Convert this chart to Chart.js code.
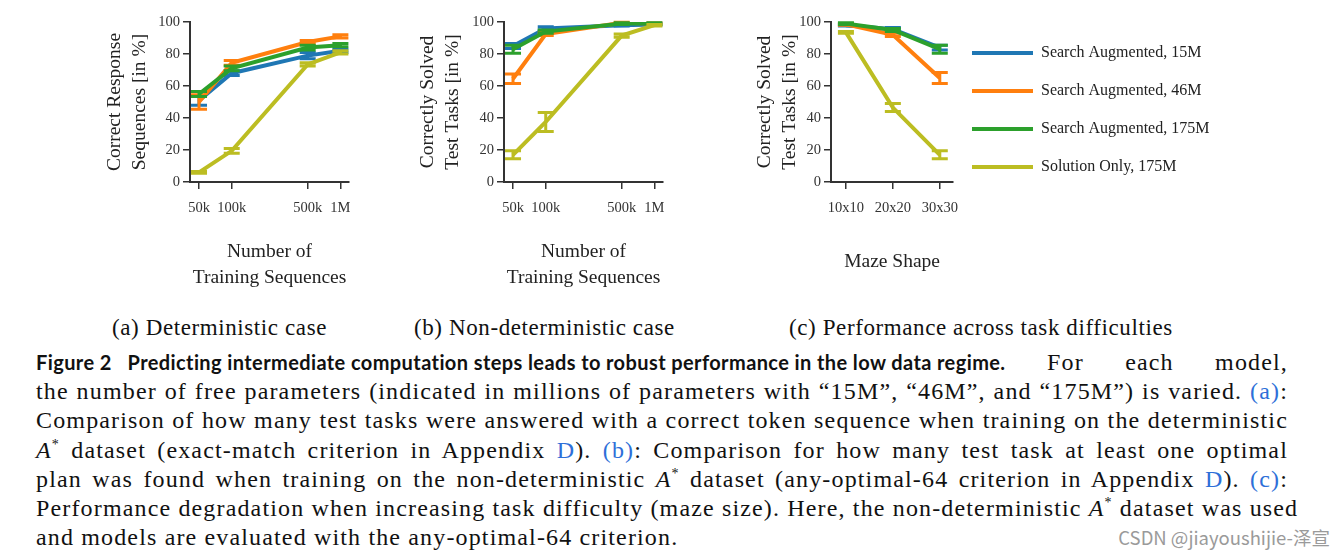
<!DOCTYPE html>
<html>
<head>
<meta charset="utf-8">
<script src="https://cdn.jsdelivr.net/npm/chart.js@4.4.0/dist/chart.umd.min.js"></script>
<style>
  html, body { margin: 0; overflow: hidden; }
  body { width: 1344px; height: 556px; background: #fff; position: relative; }
  .plot { position: absolute; top: 0; }
  .cap { position: absolute; top: 316px; font-family: 'Liberation Serif', serif; font-size: 23px; line-height: 24px; letter-spacing: 0.6px; color: #111; white-space: nowrap; }
  #text { position: absolute; left: 36px; top: 348px; width: 1252px; font-family: 'Liberation Serif', serif; font-size: 24px; line-height: 29.2px; letter-spacing: 1.15px; color: #111; }
  #text div { text-align: justify; text-align-last: justify; white-space: nowrap; }
  #text div.first { display: flex; justify-content: space-between; }
  #text div.first span { width: 241px; text-align: justify; text-align-last: justify; }
  #text div.last { text-align-last: left; }
  #text b { font-family: 'Lato', sans-serif; font-weight: bold; font-size: 20px; letter-spacing: 0.4px; }
  #text a { color: #2e6fd8; text-decoration: none; }
  #text sup { font-size: 14px; line-height: 0; }
  #mark { position: absolute; right: 14px; top: 524px; font-family: 'Noto Sans CJK SC', sans-serif; font-size: 18.5px; color: #9a9a9a; }
</style>
</head>
<body>
<div class="plot" style="left:102px;width:260px;height:292px"><canvas id="detChart"></canvas></div>
<div class="plot" style="left:415px;width:261px;height:292px"><canvas id="nondetChart"></canvas></div>
<div class="plot" style="left:752px;width:217px;height:276px"><canvas id="mazeChart"></canvas></div>
<div class="plot" style="left:950px;width:620px;height:200px"><canvas id="legendChart"></canvas></div>

<div class="cap" style="left:112px">(a) Deterministic case</div>
<div class="cap" style="left:414px">(b) Non-deterministic case</div>
<div class="cap" style="left:789px">(c) Performance across task difficulties</div>

<div id="text">
  <div class="first"><b>Figure 2&nbsp;&nbsp; Predicting intermediate computation steps leads to robust performance in the low data regime.</b><span>For each model,</span></div>
  <div>the number of free parameters (indicated in millions of parameters with “15M”, “46M”, and “175M”) is varied. <a>(a)</a>:</div>
  <div>Comparison of how many test tasks were answered with a correct token sequence when training on the deterministic</div>
  <div><i>A</i><sup>*</sup> dataset (exact-match criterion in Appendix <a>D</a>). <a>(b)</a>: Comparison for how many test task at least one optimal</div>
  <div>plan was found when training on the non-deterministic <i>A</i><sup>*</sup> dataset (any-optimal-64 criterion in Appendix <a>D</a>). <a>(c)</a>:</div>
  <div>Performance degradation when increasing task difficulty (maze size). Here, the non-deterministic <i>A</i><sup>*</sup> dataset was used</div>
  <div class="last">and models are evaluated with the any-optimal-64 criterion.</div>
</div>
<div id="mark">CSDN @jiayoushijie-泽宣</div>

<script>
// x positions / tick labels
const sizeTicks = [50000, 100000, 500000, 1000000];
const sizeLabels = ['50k', '100k', '500k', '1M'];
const mazeTicks = [0, 1, 2];
const mazeLabels = ['10x10', '20x20', '30x30'];

const seriesNames = ['Search Augmented, 15M', 'Search Augmented, 46M', 'Search Augmented, 175M', 'Solution Only, 175M'];
const seriesColors = ['#1f77b4', '#ff7f0e', '#2ca02c', '#bcbd22'];

// (a) deterministic, correct response sequences [%]
const detMean = [
  [51, 68, 79, 82],
  [50, 74.5, 87.5, 91],
  [55, 71, 84, 85.5],
  [6, 19.5, 73.5, 81]
];
const detErr = [
  [3, 1.5, 2, 1],
  [4.5, 1.5, 1, 1],
  [1.5, 1.5, 1.5, 1],
  [0.5, 1.5, 1, 1]
];

// (b) non-deterministic, correctly solved test tasks [%]
const nondetMean = [
  [85, 96, 98, 98.5],
  [64.5, 92.5, 99.5, 99],
  [83, 94, 99, 99],
  [17, 37.5, 91.5, 98]
];
const nondetErr = [
  [1.5, 1, 0.5, 0.5],
  [3, 1, 0.3, 0.3],
  [2.5, 1, 0.5, 0.5],
  [2.5, 6, 1, 0.5]
];

// (c) maze shape, correctly solved test tasks [%]
const mazeMean = [
  [98, 95.5, 84],
  [98.5, 92, 65],
  [99, 95, 83],
  [93.5, 46.5, 17]
];
const mazeErr = [
  [0.5, 1, 1.5],
  [0.5, 1, 3.5],
  [0.5, 1, 2.5],
  [0.5, 2.5, 2.5]
];

const tickFont = { family: 'Liberation Serif', size: 14.5 };
const titleFont = { family: 'Liberation Serif', size: 19.5, lineHeight: '26px' };
const ink = '#333';

// draws the error bars of each series right after its line
const errorBars = {
  id: 'errorBars',
  afterDatasetDraw(chart, args) {
    const ds = chart.data.datasets[args.index];
    if (!ds.errors) return;
    const ctx = chart.ctx, xs = chart.scales.x, ys = chart.scales.y;
    ctx.save();
    ctx.strokeStyle = ds.borderColor;
    ctx.lineWidth = 3;
    ds.data.forEach((p, i) => {
      const e = ds.errors[i];
      const px = xs.getPixelForValue(p.x);
      const lo = ys.getPixelForValue(p.y - e);
      const hi = ys.getPixelForValue(p.y + e);
      ctx.beginPath();
      ctx.moveTo(px, lo); ctx.lineTo(px, hi);
      ctx.moveTo(px - 8, lo); ctx.lineTo(px + 8, lo);
      ctx.moveTo(px - 8, hi); ctx.lineTo(px + 8, hi);
      ctx.stroke();
    });
    ctx.restore();
  }
};

function makeDatasets(means, errs, xs) {
  return means.map((m, s) => ({
    label: seriesNames[s],
    data: m.map((v, i) => ({ x: xs[i], y: v })),
    errors: errs[s],
    borderColor: seriesColors[s],
    backgroundColor: seriesColors[s],
    borderWidth: 4,
    pointRadius: 0,
    order: 4 - s
  }));
}

function makeChart(id, cfg) {
  const xAxis = Object.assign({
    afterBuildTicks: s => { s.ticks = cfg.ticks.map(v => ({ value: v })); },
    afterFit: s => { s.height = cfg.xHeight; },
    ticks: { autoSkip: false, maxRotation: 0, padding: 10, color: ink, font: tickFont,
             callback: (v, i) => cfg.labels[i] },
    grid: { drawOnChartArea: false, tickLength: 7, color: ink, lineWidth: 1.5 },
    border: { color: ink, width: 2 },
    title: { display: true, text: cfg.xTitle, color: '#222', font: titleFont, padding: 0 }
  }, cfg.xScale);

  return new Chart(document.getElementById(id), {
    type: 'line',
    data: { datasets: makeDatasets(cfg.means, cfg.errs, cfg.ticks) },
    plugins: [errorBars],
    options: {
      responsive: true,
      maintainAspectRatio: false,
      animation: false,
      events: [],
      layout: { padding: { top: 22, right: cfg.padRight, bottom: 1, left: 0 } },
      plugins: { legend: { display: false }, tooltip: { enabled: false } },
      scales: {
        x: xAxis,
        y: {
          min: 0, max: 100,
          afterFit: s => { s.width = cfg.yWidth; },
          ticks: { stepSize: 20, padding: 3, color: ink, font: tickFont },
          grid: { drawOnChartArea: false, tickLength: 7, color: ink, lineWidth: 1.5 },
          border: { color: ink, width: 2 },
          title: { display: true, text: cfg.yTitle, color: '#222', font: Object.assign({}, titleFont, { lineHeight: '25.5px' }), padding: 0 }
        }
      }
    }
  });
}

makeChart('detChart', {
  means: detMean, errs: detErr, ticks: sizeTicks, labels: sizeLabels,
  xScale: { type: 'logarithmic', min: 41300, max: 1200000 },
  yTitle: ['Correct Response', 'Sequences [in %]'],
  xTitle: ['Number of', 'Training Sequences'],
  yWidth: 88, xHeight: 109, padRight: 13
});

makeChart('nondetChart', {
  means: nondetMean, errs: nondetErr, ticks: sizeTicks, labels: sizeLabels,
  xScale: { type: 'logarithmic', min: 41300, max: 1200000 },
  yTitle: ['Correctly Solved', 'Test Tasks [in %]'],
  xTitle: ['Number of', 'Training Sequences'],
  yWidth: 89, xHeight: 109, padRight: 13
});

makeChart('mazeChart', {
  means: mazeMean, errs: mazeErr, ticks: mazeTicks, labels: mazeLabels,
  xScale: { type: 'linear', min: -0.318, max: 2.284 },
  yTitle: ['Correctly Solved', 'Test Tasks [in %]'],
  xTitle: 'Maze Shape',
  yWidth: 79, xHeight: 93, padRight: 10
});

// legend only
new Chart(document.getElementById('legendChart'), {
  type: 'line',
  data: {
    datasets: seriesNames.map((name, s) => ({
      label: name, data: [], borderColor: seriesColors[s], backgroundColor: seriesColors[s], borderWidth: 4
    }))
  },
  options: {
    responsive: true,
    maintainAspectRatio: false,
    animation: false,
    events: [],
    layout: { padding: { top: 23, left: 0, right: 0, bottom: 0 } },
    scales: { x: { display: false }, y: { display: false } },
    plugins: {
      tooltip: { enabled: false },
      legend: {
        position: 'left',
        align: 'start',
        labels: {
          usePointStyle: true, pointStyle: 'line', pointStyleWidth: 61,
          padding: 22, color: '#222',
          font: { family: 'Liberation Serif', size: 16 }
        }
      }
    }
  }
});
</script>
</body>
</html>
